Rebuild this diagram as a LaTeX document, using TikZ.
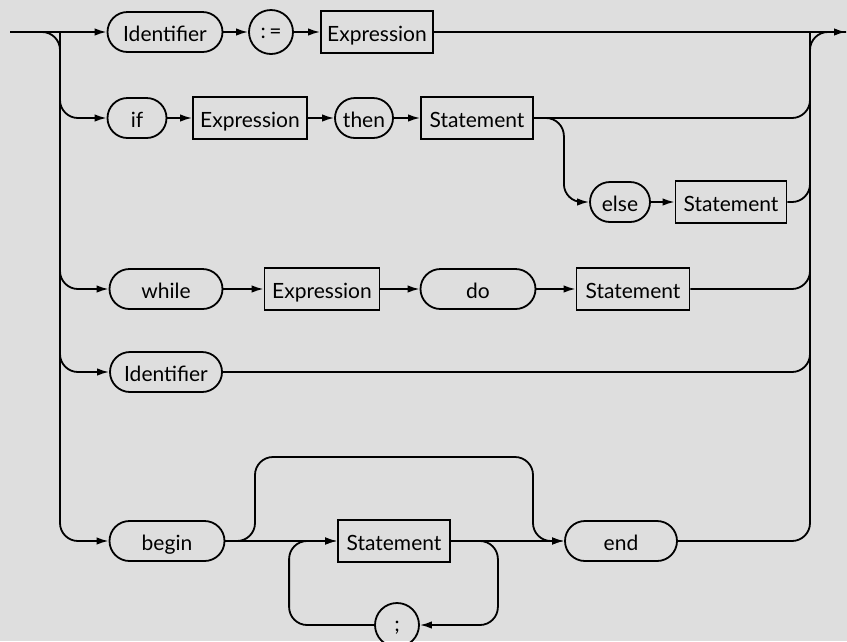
\documentclass[tikz,border=0pt]{standalone}
\usepackage{fontspec}
\setmainfont{Lato}
\usetikzlibrary{positioning,arrows.meta,calc}
\definecolor{paper}{RGB}{222,222,222}

\begin{document}
\begin{tikzpicture}[x=1pt,y=-1pt,line width=1.8pt,font=\fontsize{21}{24}\selectfont,>={Latex[length=12pt,width=7.5pt]}]
  \tikzstyle{terminal}=[draw,rectangle,rounded corners=20pt,minimum height=40pt,inner sep=0pt,text height=18pt,text depth=0pt]
  \tikzstyle{nonterminal}=[draw,rectangle,minimum height=42pt,inner sep=0pt,text height=18pt,text depth=0pt]
  \tikzstyle{symbol}=[draw,circle,minimum size=44pt,inner sep=0pt,text height=12pt,text depth=0pt]
  \tikzstyle{bus}=[rounded corners=18pt]
  \fill[paper] (0,0) rectangle (847,641);
  \useasboundingbox (0,0) rectangle (847,641);
  % ends and the two buses
  \coordinate (in) at (10,32);
  \coordinate (out) at (846,32);
  \coordinate (lb) at (60,0);
  \coordinate (rb) at (810,0);
  % assignment
  \node[terminal,minimum width=115pt] (id1) at (165,32) {Identifier};
  \node[symbol] (assign) at (271,32) {:\,=};
  \node[nonterminal,minimum width=112pt] (expr1) at (377,32) {Expression};
  % if
  \node[terminal,minimum width=59pt] (if) at (137,118) {if};
  \node[nonterminal,minimum width=114pt] (expr2) at (250,118) {Expression};
  \node[terminal,minimum width=58pt] (then) at (364,118) {then};
  \node[nonterminal,minimum width=112pt] (stmt1) at (477,118) {Statement};
  \node[terminal,minimum width=60pt] (else) at (620,202) {else};
  \node[nonterminal,minimum width=111pt] (stmt2) at (731,202) {Statement};
  % while
  \node[terminal,minimum width=113pt] (while) at (166,289) {while};
  \node[nonterminal,minimum width=115pt] (expr3) at (322,289) {Expression};
  \node[terminal,minimum width=115pt] (do) at (478,289) {do};
  \node[nonterminal,minimum width=113pt] (stmt3) at (633,289) {Statement};
  % call
  \node[terminal,minimum width=112pt] (id2) at (166,372) {Identifier};
  % block
  \node[terminal,minimum width=115pt] (begin) at (167,541) {begin};
  \node[nonterminal,minimum width=112pt] (stmt4) at (394,541) {Statement};
  \node[terminal,minimum width=112pt] (end) at (621,541) {end};
  \node[symbol] (semi) at (397,625) {;};
  \coordinate (b1) at (255,457);
  \coordinate (b2) at (533,457);

  \draw[->] (in) -- (id1);
  \draw[->] (id1) -- (assign);
  \draw[->] (assign) -- (expr1);
  \draw[->] (expr1) -- (out);
  \draw[->] (if) -- (expr2);
  \draw[->] (expr2) -- (then);
  \draw[->] (then) -- (stmt1);
  \draw[->] (else) -- (stmt2);
  \draw[->] (while) -- (expr3);
  \draw[->] (expr3) -- (do);
  \draw[->] (do) -- (stmt3);
  \draw[->] (begin) -- (stmt4);
  \draw[->] (stmt4) -- (end);

  % left bus
  \draw[bus,->] (in) -- (lb |- in) -- (lb |- begin) -- (begin);
  \draw[bus,->] (lb |- id1) -- (lb |- if) -- (if);
  \draw[bus,->] (lb |- if) -- (lb |- while) -- (while);
  \draw[bus,->] (lb |- while) -- (lb |- id2) -- (id2);
  % right bus
  \draw[bus] (end) -- (rb |- end) -- (rb |- out) -- (out);
  \draw[bus] (stmt1) -- (rb |- stmt1) -- (rb |- id1);
  \draw[bus] (stmt2) -- (rb |- stmt2) -- (rb |- stmt1);
  \draw[bus] (stmt3) -- (rb |- stmt3) -- (rb |- stmt2);
  \draw[bus] (id2) -- (rb |- id2) -- (rb |- stmt3);
  % else branch
  \draw[bus,->] (stmt1.east) -- ++(30,0) |- (else.west);
  % empty block and statement list
  \draw[bus,->] (begin.east) -| (b1) -- (b2) |- (end.west);
  \draw[bus,->] (stmt4.east) -| ($(semi.east)+(78,0)$) -- (semi.east);
  \draw[bus,->] (semi.west) -| ($(stmt4.west)+(-48,0)$) -- (stmt4.west);
\end{tikzpicture}
\end{document}
